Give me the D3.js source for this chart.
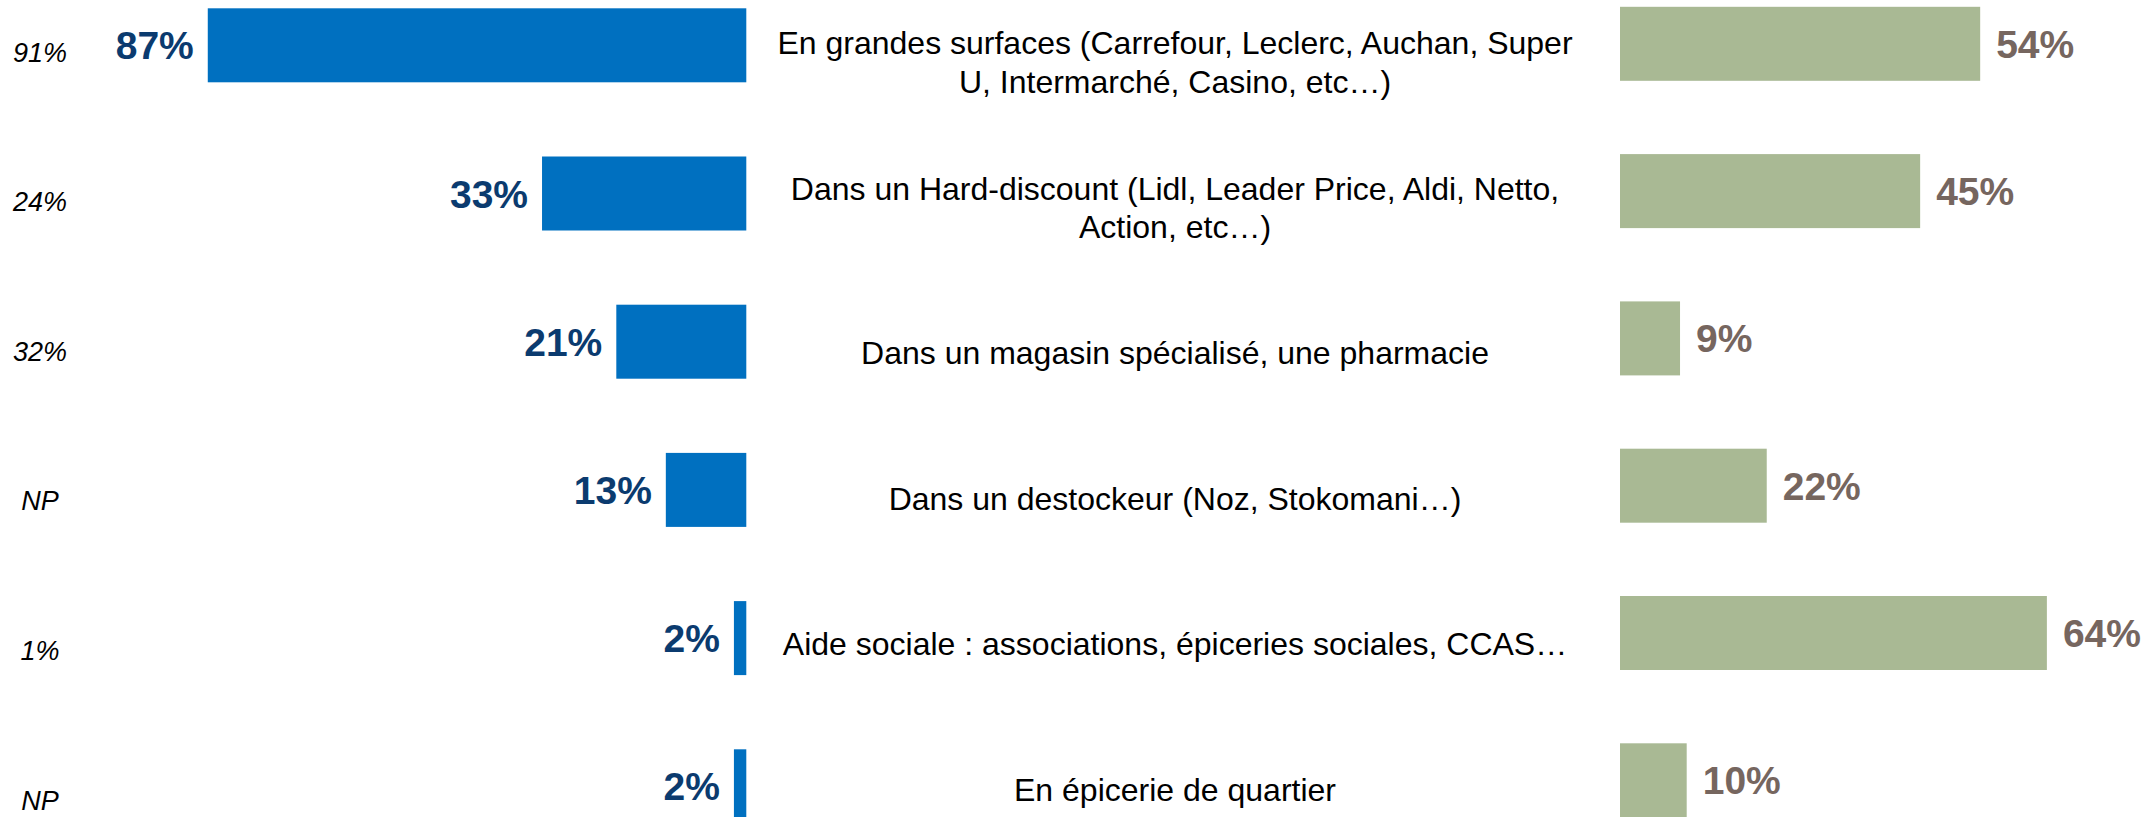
<!DOCTYPE html>
<html lang="fr">
<head>
    <meta charset="UTF-8">
    <title>Lieux d'achat</title>
    <script src="https://cdn.jsdelivr.net/npm/d3@7"></script>
    <style>
        body { margin: 0; background: #fff; }
        svg text { font-family: "Liberation Sans", Arial, sans-serif; }
    </style>
</head>
<body>
<div id="chart"></div>
<script>
    var width = 2149;
    var height = 817;

    // données
    var categories = [
        "En grandes surfaces (Carrefour, Leclerc, Auchan, Super\nU, Intermarché, Casino, etc…)",
        "Dans un Hard-discount (Lidl, Leader Price, Aldi, Netto,\nAction, etc…)",
        "Dans un magasin spécialisé, une pharmacie",
        "Dans un destockeur (Noz, Stokomani…)",
        "Aide sociale : associations, épiceries sociales, CCAS…",
        "En épicerie de quartier"
    ];
    var blueValues = [87, 33, 21, 13, 2, 2];
    var greenValues = [54, 45, 9, 22, 64, 10];
    var refLabels = ["91%", "24%", "32%", "NP", "1%", "NP"];

    var svg = d3.select("#chart")
            .append("svg")
            .attr("width", width)
            .attr("height", height);

    var idx = d3.range(categories.length);
    var barH = 74;

    // échelles verticales (centres des lignes)
    var yBlue = d3.scalePoint().domain(idx).range([45.3, 786.3]);
    var yGreen = d3.scalePoint().domain(idx).range([43.8, 780.3]);
    var yText = d3.scalePoint().domain(idx).range([62, 789]);
    var yRef = d3.scalePoint().domain(idx).range([52, 800]);

    // échelles horizontales
    var xBlue = d3.scaleLinear().domain([0, 100]).range([746.3, 746.3 - 619]);
    var xGreen = d3.scaleLinear().domain([0, 100]).range([1620, 2287]);

    // colonne de gauche (rappel)
    svg.selectAll("text.ref")
            .data(idx)
            .enter()
            .append("text")
            .attr("class", "ref")
            .attr("x", 40)
            .attr("y", function (i) { return yRef(i) + 9.5; })
            .attr("text-anchor", "middle")
            .attr("font-size", 27)
            .attr("font-style", "italic")
            .attr("fill", "#000")
            .text(function (i) { return refLabels[i]; });

    // barres bleues
    svg.selectAll("rect.blue")
            .data(idx)
            .enter()
            .append("rect")
            .attr("class", "blue")
            .attr("x", function (i) { return xBlue(blueValues[i]); })
            .attr("y", function (i) { return yBlue(i) - barH / 2; })
            .attr("width", function (i) { return xBlue(0) - xBlue(blueValues[i]); })
            .attr("height", barH)
            .attr("fill", "#0070C0");

    svg.selectAll("text.blue")
            .data(idx)
            .enter()
            .append("text")
            .attr("class", "blue")
            .attr("x", function (i) { return xBlue(blueValues[i]) - 14; })
            .attr("y", function (i) { return yBlue(i) + 14; })
            .attr("text-anchor", "end")
            .attr("font-size", 39)
            .attr("font-weight", "bold")
            .attr("fill", "#0B3B6F")
            .text(function (i) { return blueValues[i] + "%"; });

    // barres vertes
    svg.selectAll("rect.green")
            .data(idx)
            .enter()
            .append("rect")
            .attr("class", "green")
            .attr("x", xGreen(0))
            .attr("y", function (i) { return yGreen(i) - barH / 2; })
            .attr("width", function (i) { return xGreen(greenValues[i]) - xGreen(0); })
            .attr("height", barH)
            .attr("fill", "#A9B994");

    svg.selectAll("text.green")
            .data(idx)
            .enter()
            .append("text")
            .attr("class", "green")
            .attr("x", function (i) { return xGreen(greenValues[i]) + 16; })
            .attr("y", function (i) { return yGreen(i) + 14; })
            .attr("text-anchor", "start")
            .attr("font-size", 39)
            .attr("font-weight", "bold")
            .attr("fill", "#76665F")
            .text(function (i) { return greenValues[i] + "%"; });

    // libellés centraux
    var lineH = 38.5;
    var cat = svg.selectAll("text.cat")
            .data(idx)
            .enter()
            .append("text")
            .attr("class", "cat")
            .attr("text-anchor", "middle")
            .attr("font-size", 32)
            .attr("fill", "#000");

    cat.each(function (i) {
        var lines = categories[i].split("\n");
        var first = yText(i) + 11.5 - (lines.length - 1) * lineH / 2;
        d3.select(this).selectAll("tspan")
                .data(lines)
                .enter()
                .append("tspan")
                .attr("x", 1175)
                .attr("y", function (d, k) { return first + k * lineH; })
                .text(function (d) { return d; });
    });
</script>
</body>
</html>
